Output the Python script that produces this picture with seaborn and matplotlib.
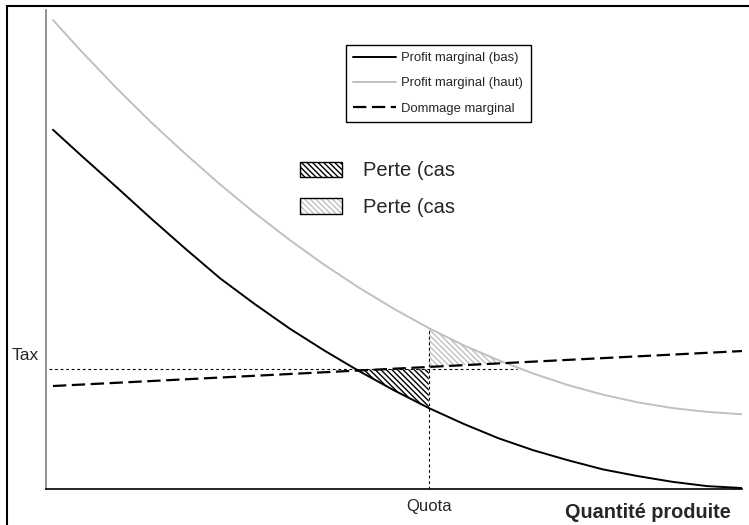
import matplotlib
matplotlib.use("Agg")
import matplotlib.pyplot as plt
from matplotlib.patches import Patch, Rectangle
import numpy as np
import pandas as pd
import seaborn as sns

# ---------------------------------------------------------------------------
# Data (arbitrary units, axes 0-100)
# ---------------------------------------------------------------------------
QUANTITY = [1, 5, 10, 15, 20, 25, 30, 35, 40, 45, 50,
            55, 60, 65, 70, 75, 80, 85, 90, 95, 100]
PROFIT_LOW = [75.0, 69.7, 63.2, 56.6, 50.2, 44.0, 38.6, 33.5, 28.9, 24.6, 20.6,
              16.9, 13.6, 10.6, 8.1, 6.0, 4.1, 2.7, 1.5, 0.6, 0.2]
PROFIT_HIGH = [97.9, 91.5, 83.9, 76.7, 70.0, 63.6, 57.6, 52.0, 46.8, 42.0, 37.6,
               33.6, 30.0, 26.9, 24.1, 21.7, 19.7, 18.1, 16.9, 16.1, 15.6]
DAMAGE_X = [1, 100]
DAMAGE_Y = [21.5, 28.8]

TAX = 25.0
TAX_START = 0.5
TAX_END = 67.7
QUOTA = 55

LINE_LABELS = ["Profit marginal (bas)", "Profit marginal (haut)", "Dommage marginal"]
AREA_LABELS = ["Perte (cas", "Perte (cas"]
X_LABEL = "Quantité produite"

GRAY = "#c0c0c0"
HATCH = "\\\\\\\\\\\\"

# ---------------------------------------------------------------------------
sns.set_style("white")
plt.rcParams["font.family"] = ["Liberation Sans", "DejaVu Sans"]
plt.rcParams["hatch.linewidth"] = 1.0

fig = plt.figure(figsize=(7.49, 5.25), dpi=100)
W, H = 749, 525
ax = fig.add_axes([46 / W, 1 - 489 / H, (742 - 46) / W, (489 - 10) / H])

x = np.array(QUANTITY, dtype=float)
low = np.array(PROFIT_LOW)
high = np.array(PROFIT_HIGH)

# hatched loss areas
sel = (x >= 40) & (x <= QUOTA)
ax.fill_between(x[sel], low[sel], TAX, where=low[sel] <= TAX, interpolate=True,
                facecolor="none", edgecolor="black", hatch=HATCH, linewidth=0)
sel = (x >= QUOTA) & (x <= 70)
dmg = np.interp(x[sel], DAMAGE_X, DAMAGE_Y)
ax.fill_between(x[sel], high[sel], dmg, where=high[sel] >= dmg, interpolate=True,
                facecolor="none", edgecolor=GRAY, hatch=HATCH, linewidth=0)

# curves
lines = pd.DataFrame({"q": x, "low": low, "high": high})
sns.lineplot(data=lines, x="q", y="low", ax=ax, color="black", linewidth=1.4,
             label=LINE_LABELS[0])
sns.lineplot(data=lines, x="q", y="high", ax=ax, color=GRAY, linewidth=1.4,
             label=LINE_LABELS[1])
damage = pd.DataFrame({"q": DAMAGE_X, "d": DAMAGE_Y})
sns.lineplot(data=damage, x="q", y="d", ax=ax, color="black", linewidth=1.6,
             dashes=False, label=LINE_LABELS[2])
ax.lines[-1].set_dashes((6, 2.5))

# reference lines
ax.hlines(TAX, TAX_START, TAX_END, color="black", linewidth=0.8,
          linestyles=(0, (2.5, 2.5)))
quota_top = PROFIT_HIGH[QUANTITY.index(QUOTA)]
ax.vlines(QUOTA, 0, quota_top, color="black", linewidth=0.8,
          linestyles=(0, (2.5, 2.5)))

ax.set_xlim(0, 100)
ax.set_ylim(0, 100)
ax.set_xticks([])
ax.set_yticks([])
ax.set_xlabel("")
ax.set_ylabel("")
for side in ["top", "right"]:
    ax.spines[side].set_visible(False)
ax.spines["left"].set_color("#808080")
ax.spines["left"].set_linewidth(1.2)
ax.spines["bottom"].set_color("black")
ax.spines["bottom"].set_linewidth(1.2)

# labels
ax.annotate("Tax", xy=(-0.03, TAX), xycoords=("axes fraction", "data"),
            xytext=(0, 14), textcoords="offset pixels", ha="center", va="center",
            fontsize=12.5)
ax.annotate("Quota", xy=(QUOTA, 0), xycoords=("data", "axes fraction"),
            xytext=(0, -18), textcoords="offset pixels", ha="center", va="center",
            fontsize=12)
fig.text(648 / W, 1 - 512 / H, X_LABEL, ha="center", va="center",
         fontsize=14.3, fontweight="bold")

# legends
leg1 = ax.legend(loc="upper left", bbox_to_anchor=(0.431, 0.927), fontsize=9.4,
                 frameon=True, fancybox=False, edgecolor="black", framealpha=1,
                 handlelength=3.3, handletextpad=0.4, labelspacing=1.0,
                 borderpad=0.55, borderaxespad=0)
leg1.get_frame().set_linewidth(1.0)
ax.add_artist(leg1)

h_dark = Patch(facecolor="white", edgecolor="black", hatch=HATCH, linewidth=1.0)
h_light = (Patch(facecolor="white", edgecolor=GRAY, hatch=HATCH, linewidth=0),
           Patch(facecolor="none", edgecolor="black", linewidth=1.0))
ax.legend([h_dark, h_light], AREA_LABELS, loc="upper left",
          bbox_to_anchor=(0.365, 0.684), fontsize=14.5, frameon=False,
          handlelength=2.09, handleheight=0.8, handletextpad=1.05,
          labelspacing=0.885, borderpad=0, borderaxespad=0)

# outer frame (right and bottom edges fall outside the image)
fig.patches.append(Rectangle((7 / W, -0.05), 1.1, 1 - 6 / H + 0.05,
                             transform=fig.transFigure, fill=False,
                             edgecolor="black", linewidth=1.5, clip_on=False))

fig.savefig("out.png", dpi=100)
